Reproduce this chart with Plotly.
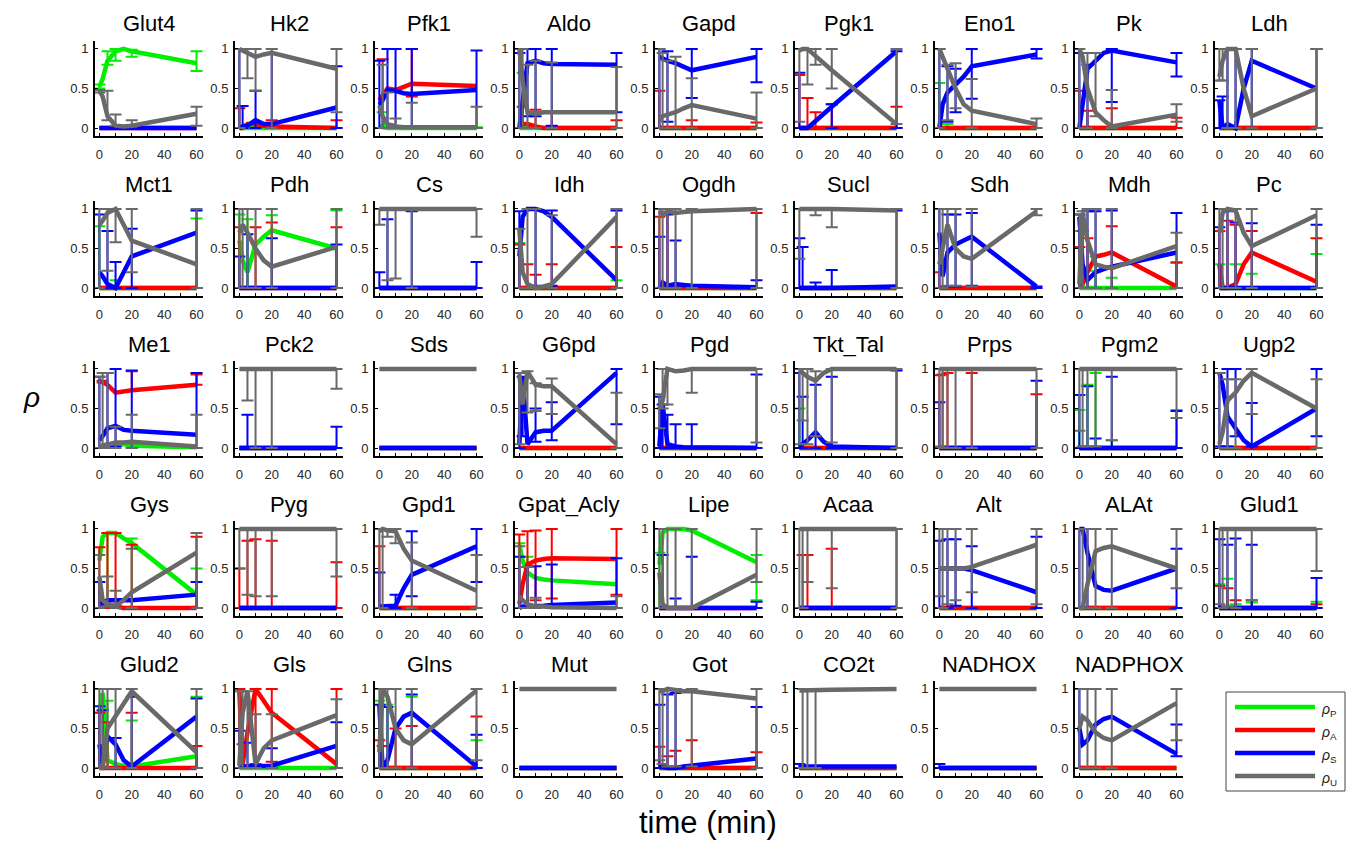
import plotly.graph_objects as go

# ---------------------------------------------------------------- data
TIME = [0, 2, 5, 10, 15, 20, 60]

GENES = [
    "Glut4", "Hk2", "Pfk1", "Aldo", "Gapd", "Pgk1", "Eno1", "Pk", "Ldh",
    "Mct1", "Pdh", "Cs", "Idh", "Ogdh", "Sucl", "Sdh", "Mdh", "Pc",
    "Me1", "Pck2", "Sds", "G6pd", "Pgd", "Tkt_Tal", "Prps", "Pgm2", "Ugp2",
    "Gys", "Pyg", "Gpd1", "Gpat_Acly", "Lipe", "Acaa", "Alt", "ALAt", "Glud1",
    "Glud2", "Gls", "Glns", "Mut", "Got", "CO2t", "NADHOX", "NADPHOX",
]

# mean regulation coefficients at each time point
P_MEAN = {
    "Glut4": [0.52, 0.62, 0.85, 0.97, 1.0, 0.97, 0.82],
    "Hk2": [0, 0, 0, 0, 0, 0, 0],
    "Pfk1": [0.02, 0.01, 0, 0, 0, 0, 0],
    "Aldo": [0, 0, 0, 0, 0, 0, 0],
    "Gapd": [0, 0, 0, 0, 0, 0, 0],
    "Pgk1": [0, 0, 0, 0, 0, 0, 0],
    "Eno1": [0, 0, 0, 0, 0, 0, 0],
    "Pk": [0, 0, 0, 0, 0, 0, 0],
    "Ldh": [0, 0, 0, 0, 0, 0, 0],
    "Mct1": [0, 0, 0, 0, 0, 0, 0],
    "Pdh": [0.6, 0.35, 0.2, 0.55, 0.65, 0.73, 0.5],
    "Cs": [0, 0, 0, 0, 0, 0, 0],
    "Idh": [0, 0, 0, 0, 0, 0, 0],
    "Ogdh": [0, 0, 0, 0, 0, 0, 0],
    "Sucl": [0, 0, 0, 0, 0, 0, 0],
    "Sdh": [0, 0, 0, 0, 0, 0, 0],
    "Mdh": [0, 0, 0, 0, 0, 0, 0],
    "Pc": [0, 0, 0, 0, 0, 0, 0],
    "Me1": [0.02, 0.03, 0.05, 0.05, 0.05, 0.03, 0.01],
    "Pck2": [0, 0, 0, 0, 0, 0, 0],
    "Sds": [0, 0, 0, 0, 0, 0, 0],
    "G6pd": [0, 0, 0, 0, 0, 0, 0],
    "Pgd": [0, 0, 0, 0, 0, 0, 0],
    "Tkt_Tal": [0, 0, 0, 0, 0, 0, 0],
    "Prps": [0, 0, 0, 0, 0, 0, 0],
    "Pgm2": [0, 0, 0, 0, 0, 0, 0],
    "Ugp2": [0, 0, 0, 0, 0, 0, 0],
    "Gys": [0.6, 0.9, 0.95, 0.95, 0.88, 0.82, 0.17],
    "Pyg": [0, 0, 0, 0, 0, 0, 0],
    "Gpd1": [0, 0, 0, 0, 0, 0, 0],
    "Gpat_Acly": [0.8, 0.6, 0.45, 0.38, 0.36, 0.35, 0.3],
    "Lipe": [0.55, 0.95, 1.0, 1.0, 1.0, 0.98, 0.58],
    "Acaa": [0, 0, 0, 0, 0, 0, 0],
    "Alt": [0, 0, 0, 0, 0, 0, 0],
    "ALAt": [0, 0, 0, 0, 0, 0, 0],
    "Glud1": [0, 0, 0, 0, 0, 0, 0],
    "Glud2": [0.7, 0.95, 0.1, 0.05, 0.03, 0.02, 0.15],
    "Gls": [0, 0, 0, 0, 0, 0, 0],
    "Glns": [0, 0, 0, 0, 0, 0, 0],
    "Mut": [0, 0, 0, 0, 0, 0, 0],
    "Got": [0, 0, 0, 0, 0, 0, 0],
    "CO2t": [0, 0, 0, 0, 0, 0, 0],
    "NADHOX": [0, 0, 0, 0, 0, 0, 0],
    "NADPHOX": [0, 0, 0, 0, 0, 0, 0],
}

A_MEAN = {
    "Glut4": [0, 0, 0, 0, 0, 0, 0],
    "Hk2": [0, 0, 0.05, 0.05, 0.03, 0.02, 0],
    "Pfk1": [0.35, 0.42, 0.5, 0.48, 0.52, 0.56, 0.53],
    "Aldo": [0.05, 0.05, 0.05, 0.02, 0, 0, 0],
    "Gapd": [0, 0, 0, 0, 0, 0, 0],
    "Pgk1": [0, 0, 0, 0, 0, 0, 0],
    "Eno1": [0, 0, 0, 0, 0, 0, 0],
    "Pk": [0, 0, 0, 0, 0, 0, 0],
    "Ldh": [0, 0, 0, 0, 0, 0, 0],
    "Mct1": [0, 0, 0, 0, 0, 0, 0],
    "Pdh": [0, 0, 0, 0, 0, 0, 0],
    "Cs": [0, 0, 0, 0, 0, 0, 0],
    "Idh": [0, 0, 0, 0, 0, 0, 0],
    "Ogdh": [0, 0, 0, 0, 0, 0, 0],
    "Sucl": [0, 0, 0, 0, 0, 0, 0],
    "Sdh": [0, 0, 0, 0, 0, 0, 0],
    "Mdh": [0.1, 0.05, 0.2, 0.4, 0.42, 0.45, 0.02],
    "Pc": [0.3, 0.0, 0.0, 0.05, 0.3, 0.45, 0.08],
    "Me1": [0.85, 0.83, 0.8, 0.7, 0.72, 0.73, 0.8],
    "Pck2": [0, 0, 0, 0, 0, 0, 0],
    "Sds": [0, 0, 0, 0, 0, 0, 0],
    "G6pd": [0, 0, 0, 0, 0, 0, 0],
    "Pgd": [0, 0, 0, 0, 0, 0, 0],
    "Tkt_Tal": [0, 0, 0, 0, 0, 0, 0],
    "Prps": [0, 0, 0, 0, 0, 0, 0],
    "Pgm2": [0, 0, 0, 0, 0, 0, 0],
    "Ugp2": [0, 0, 0, 0, 0, 0, 0],
    "Gys": [0.05, 0.05, 0.05, 0.02, 0, 0, 0],
    "Pyg": [0, 0, 0, 0, 0, 0, 0],
    "Gpd1": [0, 0, 0, 0, 0, 0, 0],
    "Gpat_Acly": [0.05, 0.3, 0.55, 0.6, 0.62, 0.63, 0.62],
    "Lipe": [0, 0, 0, 0, 0, 0, 0],
    "Acaa": [0, 0, 0, 0, 0, 0, 0],
    "Alt": [0, 0, 0, 0, 0, 0, 0],
    "ALAt": [0, 0, 0, 0, 0, 0, 0],
    "Glud1": [0, 0, 0, 0, 0, 0, 0],
    "Glud2": [0, 0, 0, 0, 0, 0, 0],
    "Gls": [0.97, 0.05, 0.45, 1.0, 0.85, 0.7, 0.05],
    "Glns": [0, 0, 0, 0, 0, 0, 0],
    "Mut": [0, 0, 0, 0, 0, 0, 0],
    "Got": [0, 0, 0, 0, 0, 0, 0],
    "CO2t": [0, 0, 0, 0, 0, 0, 0],
    "NADHOX": [0, 0, 0, 0, 0, 0, 0],
    "NADPHOX": [0, 0, 0, 0, 0, 0, 0],
}

S_MEAN = {
    "Glut4": [0, 0, 0, 0, 0, 0, 0],
    "Hk2": [0, 0.02, 0.03, 0.1, 0.05, 0.05, 0.26],
    "Pfk1": [0.3, 0.35, 0.48, 0.47, 0.44, 0.43, 0.48],
    "Aldo": [0.0, 0.3, 0.82, 0.85, 0.82, 0.81, 0.8],
    "Gapd": [0.9, 0.88, 0.85, 0.82, 0.78, 0.73, 0.9],
    "Pgk1": [0, 0, 0, 0.09, 0.18, 0.27, 0.97],
    "Eno1": [0.0, 0.3, 0.45, 0.55, 0.65, 0.78, 0.93],
    "Pk": [0, 0.3, 0.75, 0.85, 0.95, 0.98, 0.83],
    "Ldh": [0.35, 0.0, 0.05, 0.0, 0.5, 0.85, 0.5],
    "Mct1": [0.2, 0.15, 0.05, 0.0, 0.2, 0.4, 0.7],
    "Pdh": [0, 0, 0, 0, 0, 0, 0],
    "Cs": [0, 0, 0, 0, 0, 0, 0],
    "Idh": [0.4, 0.9, 1.0, 1.0, 0.97, 0.9, 0.1],
    "Ogdh": [0.0, 0.07, 0.03, 0.05, 0.04, 0.03, 0.01],
    "Sucl": [0, 0, 0, 0, 0, 0, 0.02],
    "Sdh": [0.7, 0.15, 0.45, 0.55, 0.6, 0.65, 0.02],
    "Mdh": [0.9, 0.3, 0.1, 0.2, 0.24, 0.27, 0.45],
    "Pc": [0, 0, 0, 0, 0, 0, 0],
    "Me1": [0.1, 0.15, 0.25, 0.28, 0.23, 0.22, 0.17],
    "Pck2": [0, 0, 0, 0, 0, 0, 0],
    "Sds": [0, 0, 0, 0, 0, 0, 0],
    "G6pd": [0.05, 0.9, 0.05, 0.2, 0.22, 0.22, 0.95],
    "Pgd": [0.02, 0.55, 0.05, 0.02, 0.01, 0.01, 0.0],
    "Tkt_Tal": [0.02, 0.05, 0.1, 0.2, 0.08, 0.02, 0.0],
    "Prps": [0, 0, 0, 0, 0, 0, 0],
    "Pgm2": [0, 0, 0, 0, 0, 0, 0],
    "Ugp2": [0.95, 0.8, 0.4, 0.25, 0.1, 0.02, 0.5],
    "Gys": [0.05, 0.07, 0.1, 0.1, 0.1, 0.1, 0.17],
    "Pyg": [0, 0, 0, 0, 0, 0, 0],
    "Gpd1": [0.02, 0.02, 0.02, 0.03, 0.25, 0.42, 0.78],
    "Gpat_Acly": [0.0, 0.02, 0.02, 0.02, 0.03, 0.04, 0.07],
    "Lipe": [0, 0, 0, 0, 0, 0, 0],
    "Acaa": [0, 0, 0, 0, 0, 0, 0],
    "Alt": [0.5, 0.5, 0.5, 0.5, 0.5, 0.48, 0.2],
    "ALAt": [1.0, 1.0, 0.7, 0.28, 0.23, 0.22, 0.5],
    "Glud1": [0, 0, 0, 0, 0, 0, 0],
    "Glud2": [0.3, 0.05, 0.4, 0.3, 0.1, 0.02, 0.65],
    "Gls": [0.02, 0.02, 0.03, 0.02, 0.02, 0.03, 0.28],
    "Glns": [0.8, 0.0, 0.1, 0.5, 0.65, 0.7, 0.02],
    "Mut": [0, 0, 0, 0, 0, 0, 0],
    "Got": [0.02, 0.02, 0.0, 0.0, 0.02, 0.03, 0.12],
    "CO2t": [0.02, 0.02, 0.02, 0.02, 0.02, 0.02, 0.02],
    "NADHOX": [0, 0, 0, 0, 0, 0, 0],
    "NADPHOX": [0.5, 0.3, 0.35, 0.55, 0.62, 0.65, 0.18],
}

U_MEAN = {
    "Glut4": [0.47, 0.4, 0.15, 0.03, 0.02, 0.03, 0.18],
    "Hk2": [1.0, 0.98, 0.95, 0.9, 0.93, 0.95, 0.75],
    "Pfk1": [0.28, 0.15, 0.05, 0.02, 0.01, 0.01, 0.01],
    "Aldo": [1.0, 0.6, 0.2, 0.18, 0.2, 0.2, 0.2],
    "Gapd": [0.1, 0.15, 0.17, 0.2, 0.25, 0.29, 0.12],
    "Pgk1": [0.98, 1.0, 1.0, 0.91, 0.82, 0.73, 0.05],
    "Eno1": [1.0, 0.9, 0.75, 0.5, 0.3, 0.22, 0.05],
    "Pk": [1.0, 0.9, 0.5, 0.2, 0.1, 0.02, 0.17],
    "Ldh": [0.65, 0.85, 1.0, 1.0, 0.5, 0.15, 0.5],
    "Mct1": [0.8, 0.85, 0.95, 1.0, 0.8, 0.6, 0.3],
    "Pdh": [0.7, 0.8, 0.7, 0.5, 0.35, 0.27, 0.52],
    "Cs": [1, 1, 1, 1, 1, 1, 1],
    "Idh": [0.75, 0.2, 0.05, 0.0, 0.02, 0.05, 0.9],
    "Ogdh": [0.97, 0.93, 0.97, 0.95, 0.96, 0.97, 1.0],
    "Sucl": [1, 1, 1, 1, 1, 1, 0.98],
    "Sdh": [0.3, 0.5, 0.8, 0.5, 0.4, 0.37, 0.97],
    "Mdh": [0.05, 0.95, 0.6, 0.3, 0.27, 0.25, 0.53],
    "Pc": [0.7, 0.95, 1.0, 0.98, 0.7, 0.53, 0.92],
    "Me1": [0.02, 0.03, 0.05, 0.07, 0.07, 0.08, 0.02],
    "Pck2": [1, 1, 1, 1, 1, 1, 1],
    "Sds": [1, 1, 1, 1, 1, 1, 1],
    "G6pd": [0.93, 0.55, 0.97, 0.8, 0.78, 0.78, 0.05],
    "Pgd": [0.5, 0.6, 1.0, 0.97, 0.98, 1.0, 1.0],
    "Tkt_Tal": [0.97, 0.95, 0.9, 0.85, 0.95, 1.0, 1.0],
    "Prps": [1, 1, 1, 1, 1, 1, 1],
    "Pgm2": [1, 1, 1, 1, 1, 1, 1],
    "Ugp2": [0.05, 0.2, 0.6, 0.7, 0.85, 0.95, 0.5],
    "Gys": [0.4, 0.1, 0.05, 0.02, 0.1, 0.2, 0.7],
    "Pyg": [1, 1, 1, 1, 1, 1, 1],
    "Gpd1": [0.97, 1.0, 0.98, 0.97, 0.75, 0.6, 0.22],
    "Gpat_Acly": [0.15, 0.1, 0.05, 0.02, 0.02, 0.01, 0.0],
    "Lipe": [0.45, 0.05, 0.0, 0.0, 0.0, 0.0, 0.42],
    "Acaa": [1, 1, 1, 1, 1, 1, 1],
    "Alt": [0.5, 0.5, 0.5, 0.5, 0.5, 0.52, 0.8],
    "ALAt": [0.0, 0.0, 0.3, 0.72, 0.76, 0.78, 0.5],
    "Glud1": [1, 1, 1, 1, 1, 1, 1],
    "Glud2": [0.0, 0.0, 0.5, 0.65, 0.8, 0.97, 0.2],
    "Gls": [0.03, 0.7, 0.97, 0.05, 0.25, 0.35, 0.67],
    "Glns": [0.2, 1.0, 0.9, 0.5, 0.35, 0.3, 0.98],
    "Mut": [1, 1, 1, 1, 1, 1, 1],
    "Got": [0.97, 0.97, 1.0, 0.98, 0.97, 0.97, 0.88],
    "CO2t": [0.98, 0.98, 0.98, 0.99, 0.99, 0.99, 1.0],
    "NADHOX": [1, 1, 1, 1, 1, 1, 1],
    "NADPHOX": [0.5, 0.65, 0.6, 0.45, 0.38, 0.35, 0.82],
}

# confidence intervals: (time index, lower bound, upper bound)
P_ERR = {
    "Glut4": [(0, 0.5, 0.55), (2, 0.8, 0.97), (3, 0.85, 1.0), (5, 0.9, 0.99), (6, 0.72, 0.97)],
    "Pfk1": [(1, 0, 0.2), (2, 0, 0.05), (6, 0, 0.01)],
    "Aldo": [(1, 0, 0.7)],
    "Eno1": [(0, 0, 0.57), (2, 0, 0.05)],
    "Mct1": [(0, 0, 0.78), (3, 0, 0.1), (6, 0, 0.88)],
    "Pdh": [(0, 0, 0.93), (2, 0, 0.87), (5, 0, 0.92), (6, 0, 0.98)],
    "Idh": [(0, 0, 0.57), (6, 0, 0.1)],
    "Mdh": [(0, 0, 0.72), (2, 0, 0.22), (3, 0, 0.4), (5, 0, 0.13), (6, 0, 0.33)],
    "Pc": [(0, 0, 0.3), (3, 0, 0.3), (5, 0, 0.18), (6, 0, 0.43)],
    "Tkt_Tal": [(0, 0, 0.5)],
    "Pgm2": [(0, 0, 0.48), (2, 0, 0.8), (3, 0, 0.95), (5, 0, 0.1), (6, 0, 0.48)],
    "Gys": [(2, 0, 0.95), (5, 0, 0.88), (6, 0, 0.5)],
    "Gpat_Acly": [(0, 0, 0.82), (2, 0, 0.65)],
    "Lipe": [(0, 0, 0.7), (6, 0.1, 0.67)],
    "Glud1": [(0, 0, 0.3), (2, 0, 0.37), (3, 0, 0.05), (5, 0, 0.07), (6, 0, 0.08)],
    "Glud2": [(0, 0, 0.67), (2, 0, 0.85), (5, 0, 0.6), (6, 0, 0.9)],
    "Glns": [(0, 0, 0.85), (2, 0, 0.8), (5, 0, 0.9), (6, 0, 0.35)],
}

A_ERR = {
    "Hk2": [(0, 0, 0.25), (5, 0, 0.1), (6, 0, 0.1)],
    "Pfk1": [(1, 0, 0.87), (5, 0.4, 1.0)],
    "Aldo": [(1, 0, 0.27), (3, 0, 0.23), (5, 0, 0.2), (6, 0, 0.1)],
    "Gapd": [(0, 0, 0.47), (5, 0, 0.1), (6, 0, 0.07)],
    "Pgk1": [(0, 0, 0.67), (2, 0, 0.38), (3, 0, 0.2), (5, 0, 0.3), (6, 0, 0.27)],
    "Pk": [(0, 0, 0.47), (2, 0, 0.22), (5, 0, 0.25), (6, 0, 0.13)],
    "Pdh": [(0, 0, 0.77), (3, 0, 0.77), (5, 0, 0.83), (6, 0, 0.77)],
    "Idh": [(0, 0, 0.55), (2, 0, 0.3), (3, 0, 0.17), (5, 0, 0.3), (6, 0, 0.52)],
    "Ogdh": [(0, 0, 0.9), (2, 0, 0.95), (6, 0, 0.95)],
    "Sdh": [(0, 0, 0.2)],
    "Mdh": [(0, 0, 0.52), (1, 0, 0.72), (2, 0, 0.63), (5, 0, 0.78), (6, 0, 0.32)],
    "Pc": [(0, 0, 0.72), (2, 0, 0.85), (3, 0, 0.8), (5, 0, 0.72), (6, 0, 0.63)],
    "Me1": [(1, 0.83, 0.85), (5, 0.73, 0.97), (6, 0.8, 0.93)],
    "Prps": [(0, 0, 0.92), (1, 0, 0.93), (2, 0, 0.95), (5, 0, 0.95), (6, 0, 0.68)],
    "Gys": [(0, 0, 0.77), (2, 0, 0.95), (3, 0, 0.95), (5, 0, 0.8), (6, 0, 0.9)],
    "Pyg": [(0, 0, 0.5), (2, 0, 0.85), (3, 0, 0.87), (5, 0, 0.85), (6, 0, 0.58)],
    "Gpd1": [(0, 0, 0.78)],
    "Gpat_Acly": [(0, 0, 0.93), (2, 0, 0.97), (3, 0.1, 0.98), (5, 0.12, 1.0), (6, 0.17, 1.0)],
    "Acaa": [(1, 0, 0.67), (2, 0, 0.67), (5, 0, 0.75), (6, 0, 1.0)],
    "Glud1": [(0, 0, 0.28), (2, 0, 0.25), (3, 0, 0.1), (5, 0, 0.1), (6, 0, 0.05)],
    "Glud2": [(0, 0, 0.7), (2, 0, 0.58), (5, 0, 0.7), (6, 0, 0.28)],
    "Gls": [(0, 0, 1.0), (1, 0, 0.3), (3, 0.05, 1.0), (5, 0.08, 1.0), (6, 0, 1.0)],
    "Glns": [(0, 0, 0.35), (1, 0, 0.28), (3, 0, 0.5), (5, 0, 0.53), (6, 0, 0.65)],
    "Got": [(0, 0, 0.27), (2, 0, 0.15), (3, 0, 0.22), (5, 0, 0.35), (6, 0, 0.2)],
}

S_ERR = {
    "Hk2": [(0, 0, 1.0), (1, 0, 0.28), (3, 0, 0.47), (5, 0, 0.95), (6, 0, 0.78)],
    "Pfk1": [(0, 0, 0.85), (2, 0, 1.0), (3, 0, 1.0), (5, 0, 1.0), (6, 0, 0.98)],
    "Aldo": [(0, 0, 0.95), (2, 0.15, 1.0), (3, 0.15, 1.0), (5, 0.03, 1.0), (6, 0.2, 0.95)],
    "Gapd": [(0, 0, 1.0), (2, 0.08, 0.97), (5, 0.38, 1.0), (6, 0.58, 1.0)],
    "Pgk1": [(0, 0, 0.7), (5, 0, 0.3), (6, 0, 0.85)],
    "Eno1": [(0, 0, 1.0), (2, 0.08, 0.78), (3, 0.2, 0.75), (5, 0.37, 1.0), (6, 0.88, 1.0)],
    "Pk": [(0, 0, 0.95), (2, 0, 0.8), (5, 0.33, 1.0), (6, 0.65, 0.95)],
    "Ldh": [(0, 0, 0.35), (1, 0, 0.4), (2, 0, 1.0), (3, 0, 1.0), (5, 0, 1.0), (6, 0, 1.0)],
    "Mct1": [(0, 0, 0.93), (2, 0, 0.72), (3, 0, 0.33), (5, 0, 0.75), (6, 0, 0.98)],
    "Pdh": [(0, 0, 0.4), (2, 0, 0.68), (5, 0, 0.63), (6, 0, 0.55)],
    "Cs": [(0, 0, 0.2), (2, 0, 0.87), (5, 0, 0.97), (6, 0, 0.33)],
    "Idh": [(0, 0, 0.97), (3, 0.03, 1.0), (5, 0.03, 0.98), (6, 0, 0.98)],
    "Ogdh": [(0, 0, 0.65), (2, 0, 0.93), (3, 0, 0.6), (6, 0, 0.1)],
    "Sucl": [(0, 0, 0.63), (1, 0, 0.52), (3, 0, 0.07), (5, 0, 0.23), (6, 0, 0.98)],
    "Sdh": [(0, 0, 1.0), (2, 0.02, 0.93), (3, 0.02, 0.93), (5, 0.03, 0.95), (6, 0, 0.02)],
    "Mdh": [(0, 0, 0.93), (2, 0, 0.97), (3, 0, 0.97), (5, 0, 0.98), (6, 0, 0.95)],
    "Pc": [(0, 0, 0.77), (2, 0, 0.97), (3, 0, 0.83), (5, 0, 0.82), (6, 0, 0.8)],
    "Me1": [(0, 0, 0.9), (2, 0, 0.95), (3, 0.02, 1.0), (5, 0, 0.98), (6, 0, 0.95)],
    "Pck2": [(2, 0, 0.42), (6, 0, 0.27)],
    "G6pd": [(0, 0, 0.95), (1, 0.15, 0.55), (3, 0.08, 0.5), (5, 0.1, 0.58), (6, 0.3, 1.0)],
    "Pgd": [(0, 0, 0.65), (1, 0, 0.5), (2, 0, 0.42), (3, 0, 0.3), (5, 0, 0.3), (6, 0, 0.93)],
    "Tkt_Tal": [(0, 0, 0.95), (1, 0, 0.65), (3, 0, 0.8), (5, 0, 0.9), (6, 0, 0.98)],
    "Prps": [(0, 0, 0.58), (6, 0, 0.85)],
    "Pgm2": [(0, 0, 0.67), (2, 0, 0.78), (3, 0, 0.12), (5, 0, 0.9), (6, 0, 0.47)],
    "Ugp2": [(0, 0.02, 0.95), (2, 0.02, 1.0), (3, 0.15, 1.0), (5, 0.02, 0.57), (6, 0.15, 1.0)],
    "Gys": [(0, 0, 0.33), (6, 0, 0.33)],
    "Gpd1": [(0, 0, 0.45), (3, 0, 0.17), (5, 0.15, 0.97), (6, 0.33, 1.0)],
    "Gpat_Acly": [(0, 0, 0.65), (2, 0, 0.52), (3, 0, 0.53), (5, 0, 0.55), (6, 0, 0.63)],
    "Lipe": [(1, 0, 0.67), (3, 0, 0.12), (5, 0, 0.65), (6, 0, 0.08)],
    "Alt": [(0, 0, 0.85), (2, 0, 0.87), (3, 0.03, 0.87), (5, 0, 0.78), (6, 0, 0.9)],
    "ALAt": [(0, 0, 1.0), (2, 0, 1.0), (6, 0, 0.75)],
    "Glud1": [(0, 0, 0.87), (2, 0, 0.8), (3, 0, 0.88), (5, 0, 0.8), (6, 0, 0.38)],
    "Glud2": [(0, 0, 0.78), (1, 0, 0.73), (3, 0, 0.38), (5, 0, 0.9), (6, 0, 0.88)],
    "Gls": [(0, 0, 0.47), (2, 0, 0.32), (5, 0, 0.25), (6, 0, 0.58)],
    "Glns": [(0, 0, 0.8), (2, 0, 0.77), (5, 0, 0.93), (6, 0, 0.42)],
    "Got": [(0, 0, 0.8), (2, 0, 0.93), (3, 0, 0.95), (6, 0, 0.77)],
    "CO2t": [(0, 0, 0.05)],
    "NADHOX": [(0, 0, 0.05)],
    "NADPHOX": [(0, 0, 1.0), (6, 0.15, 0.55)],
}

U_ERR = {
    "Glut4": [(0, 0.45, 0.48), (2, 0.1, 0.47), (3, 0.03, 0.17), (5, 0.02, 0.1), (6, 0.03, 0.27)],
    "Hk2": [(0, 0, 1.0), (2, 0.63, 1.0), (3, 0.47, 1.0), (5, 0, 1.0), (6, 0.2, 1.0)],
    "Pfk1": [(1, 0, 0.8), (2, 0, 0.45), (3, 0, 0.12), (5, 0, 0.32), (6, 0, 0.27)],
    "Aldo": [(0, 0, 1.0), (1, 0, 1.0), (2, 0, 0.8), (3, 0, 0.85), (5, 0, 0.83), (6, 0, 0.77)],
    "Gapd": [(0, 0, 1.0), (1, 0, 0.95), (2, 0, 0.85), (3, 0, 0.9), (5, 0, 0.63), (6, 0, 0.45)],
    "Pgk1": [(0, 0.08, 1.0), (2, 0.55, 1.0), (3, 0.8, 1.0), (5, 0.5, 1.0), (6, 0.12, 1.0)],
    "Eno1": [(0, 0, 1.0), (2, 0.1, 0.8), (3, 0.25, 0.82), (5, 0, 0.62), (6, 0, 0.12)],
    "Pk": [(0, 0, 1.0), (2, 0, 0.95), (3, 0.15, 0.95), (5, 0, 0.48), (6, 0.08, 0.3)],
    "Ldh": [(0, 0.6, 1.0), (1, 0.6, 1.0), (2, 0, 1.0), (3, 0, 1.0), (5, 0, 1.0), (6, 0, 1.0)],
    "Mct1": [(0, 0, 1.0), (2, 0.22, 1.0), (3, 0.58, 1.0), (5, 0.2, 1.0), (6, 0, 1.0)],
    "Pdh": [(0, 0, 1.0), (1, 0, 1.0), (2, 0, 1.0), (3, 0, 1.0), (5, 0, 1.0), (6, 0, 1.0)],
    "Cs": [(0, 0.8, 1.0), (2, 0.1, 1.0), (3, 0.12, 1.0), (5, 0, 1.0), (6, 0.65, 1.0)],
    "Idh": [(0, 0, 0.75), (2, 0, 1.0), (3, 0, 1.0), (5, 0, 0.92), (6, 0, 1.0)],
    "Ogdh": [(0, 0, 1.0), (1, 0, 1.0), (2, 0, 1.0), (3, 0, 1.0), (5, 0, 1.0), (6, 0, 1.0)],
    "Sucl": [(0, 0.37, 1.0), (3, 0.92, 1.0), (5, 0.77, 1.0), (6, 0, 1.0)],
    "Sdh": [(0, 0, 1.0), (1, 0, 1.0), (2, 0.03, 1.0), (3, 0.03, 1.0), (5, 0.02, 1.0), (6, 0.92, 1.0)],
    "Mdh": [(0, 0, 0.93), (1, 0, 0.97), (2, 0, 1.0), (3, 0, 1.0), (5, 0, 1.0), (6, 0, 0.7)],
    "Pc": [(0, 0, 1.0), (1, 0, 1.0), (2, 0, 1.0), (3, 0, 1.0), (5, 0, 1.0), (6, 0, 1.0)],
    "Me1": [(0, 0, 0.9), (1, 0, 0.95), (2, 0, 0.95), (3, 0, 0.27), (5, 0, 0.42), (6, 0, 0.42)],
    "Pck2": [(2, 0.6, 1.0), (3, 0, 1.0), (5, 0, 1.0), (6, 0.75, 1.0)],
    "G6pd": [(0, 0.05, 0.95), (2, 0.45, 0.97), (3, 0.47, 0.82), (5, 0.43, 0.88), (6, 0, 0.7)],
    "Pgd": [(0, 0.25, 0.68), (1, 0.5, 1.0), (2, 0.55, 1.0), (5, 0.7, 1.0), (6, 0.07, 1.0)],
    "Tkt_Tal": [(0, 0.05, 1.0), (1, 0.35, 1.0), (2, 0.05, 1.0), (3, 0.15, 0.97), (5, 0.07, 1.0), (6, 0, 1.0)],
    "Prps": [(0, 0.02, 1.0), (1, 0, 1.0), (2, 0, 1.0), (3, 0, 1.0), (5, 0, 1.0), (6, 0, 1.0)],
    "Pgm2": [(0, 0.22, 1.0), (1, 0.02, 1.0), (2, 0.02, 1.0), (3, 0.02, 1.0), (5, 0.1, 1.0), (6, 0.38, 1.0)],
    "Ugp2": [(0, 0, 0.95), (2, 0, 0.87), (3, 0, 0.87), (5, 0.43, 1.0), (6, 0, 0.87)],
    "Gys": [(0, 0, 0.67), (2, 0.02, 0.4), (3, 0, 0.22), (5, 0, 0.75), (6, 0, 0.95)],
    "Pyg": [(0, 0.5, 1.0), (2, 0.17, 1.0), (3, 0.15, 1.0), (5, 0.15, 1.0), (6, 0.4, 1.0)],
    "Gpd1": [(0, 0, 1.0), (1, 0, 0.97), (2, 0.9, 1.0), (3, 0.82, 1.0), (5, 0, 0.83), (6, 0, 0.67)],
    "Gpat_Acly": [(0, 0, 0.78), (2, 0, 0.52), (3, 0, 0.13), (6, 0, 0.15)],
    "Lipe": [(0, 0, 1.0), (1, 0, 1.0), (2, 0, 1.0), (3, 0, 1.0), (5, 0, 1.0), (6, 0.33, 1.0)],
    "Acaa": [(0, 0, 1.0), (1, 0, 1.0), (2, 0.33, 1.0), (5, 0.25, 1.0), (6, 0, 1.0)],
    "Alt": [(0, 0.15, 1.0), (1, 0, 1.0), (2, 0.05, 1.0), (3, 0.1, 1.0), (5, 0.2, 1.0), (6, 0.05, 1.0)],
    "ALAt": [(0, 0, 1.0), (1, 0, 1.0), (2, 0, 1.0), (3, 0, 1.0), (5, 0, 1.0), (6, 0.25, 1.0)],
    "Glud1": [(0, 0.05, 1.0), (1, 0, 1.0), (2, 0.02, 1.0), (3, 0, 1.0), (5, 0.1, 1.0), (6, 0.47, 1.0)],
    "Glud2": [(0, 0, 1.0), (1, 0, 1.0), (2, 0, 1.0), (3, 0, 1.0), (5, 0, 1.0), (6, 0, 1.0)],
    "Gls": [(0, 0, 0.97), (1, 0, 0.97), (2, 0, 0.7), (3, 0, 0.68), (5, 0, 0.68), (6, 0, 0.87)],
    "Glns": [(0, 0, 1.0), (1, 0, 1.0), (2, 0, 1.0), (3, 0, 1.0), (5, 0, 1.0), (6, 0.1, 1.0)],
    "Got": [(0, 0.1, 1.0), (1, 0.05, 1.0), (2, 0.02, 1.0), (3, 0.02, 1.0), (5, 0.02, 1.0), (6, 0, 1.0)],
    "CO2t": [(1, 0, 1.0), (2, 0, 1.0), (3, 0, 1.0)],
    "NADPHOX": [(0, 0, 1.0), (2, 0, 1.0), (3, 0, 1.0), (5, 0, 1.0), (6, 0.35, 1.0)],
}

SERIES = [
    ("P", P_MEAN, P_ERR, "#00ee00"),
    ("A", A_MEAN, A_ERR, "#ff0000"),
    ("S", S_MEAN, S_ERR, "#0000ff"),
    ("U", U_MEAN, U_ERR, "#696969"),
]

# ---------------------------------------------------------------- layout geometry (px)
W, H = 1351, 842
NCOL = 9
COL_X0, COL_STEP, PLOT_W = 95, 140, 108
ROW_Y0, ROW_STEP, PLOT_H = 41, 160, 95
FONT = "Liberation Sans, Arial, sans-serif"


def fx(px):
    return px / W


def fy(py):
    return 1 - py / H


fig = go.Figure()
layout = dict(
    width=W, height=H,
    margin=dict(l=0, r=0, t=0, b=0),
    paper_bgcolor="white", plot_bgcolor="white",
    showlegend=False,
    font=dict(family=FONT, color="#262626"),
)
annotations = []
shapes = []

for k, gene in enumerate(GENES):
    r, c = divmod(k, NCOL)
    x0 = COL_X0 + c * COL_STEP
    y0 = ROW_Y0 + r * ROW_STEP
    n = k + 1
    xa_name = "xaxis" if n == 1 else f"xaxis{n}"
    ya_name = "yaxis" if n == 1 else f"yaxis{n}"
    xref = "x" if n == 1 else f"x{n}"
    yref = "y" if n == 1 else f"y{n}"

    for name, means, errs, color in SERIES:
        m = means[gene]
        pts = errs.get(gene, [])
        if pts:
            ex = [TIME[i] for i, lo, hi in pts]
            ey = [m[i] for i, lo, hi in pts]
            up = [max(hi - m[i], 0) for i, lo, hi in pts]
            dn = [max(m[i] - lo, 0) for i, lo, hi in pts]
            fig.add_trace(go.Scatter(
                x=ex, y=ey, mode="markers",
                marker=dict(size=1, color="rgba(0,0,0,0)"),
                error_y=dict(type="data", symmetric=False, array=up, arrayminus=dn,
                             color=color, thickness=2, width=6),
                xaxis=xref, yaxis=yref, hoverinfo="skip", cliponaxis=False,
            ))
        fig.add_trace(go.Scatter(
            x=TIME, y=m, mode="lines",
            line=dict(color=color, width=4.5),
            xaxis=xref, yaxis=yref, hoverinfo="skip", name=name,
        ))

    common = dict(
        showline=True, linecolor="black", linewidth=2, mirror=False,
        showgrid=False, zeroline=False, ticks="inside", ticklen=3,
        tickcolor="black", tickwidth=1,
        tickfont=dict(size=13, color="#262626", family=FONT),
        fixedrange=True,
    )
    layout[xa_name] = dict(
        common, domain=[fx(x0), fx(x0 + PLOT_W)], anchor=yref,
        range=[-2.7, 64], tickvals=[0, 20, 40, 60], ticklabelstandoff=5,
        minor=dict(tickvals=[10, 30, 50], ticks="inside", ticklen=3, tickcolor="black"),
    )
    layout[ya_name] = dict(
        common, domain=[fy(y0 + PLOT_H), fy(y0)], anchor=xref,
        range=[-0.1, 1.1], tickvals=[0, 0.5, 1], ticktext=["0", "0.5", "1"],
        ticklabelstandoff=2,
    )
    annotations.append(dict(
        text=gene, x=fx(x0 + PLOT_W / 2), y=fy(y0 - 17), xref="paper", yref="paper",
        showarrow=False, xanchor="center", yanchor="middle",
        font=dict(size=22, color="black", family=FONT),
    ))

# axis titles
annotations.append(dict(
    text="time (min)", x=fx(708), y=fy(822), xref="paper", yref="paper",
    showarrow=False, xanchor="center", yanchor="middle",
    font=dict(size=31, color="black", family=FONT),
))
annotations.append(dict(
    text="<i>ρ</i>", x=fx(31), y=fy(397), xref="paper", yref="paper",
    showarrow=False, xanchor="center", yanchor="middle",
    font=dict(size=28, color="black", family=FONT),
))

# legend box
shapes.append(dict(type="rect", xref="paper", yref="paper",
                   x0=fx(1226), x1=fx(1345), y0=fy(791), y1=fy(692),
                   line=dict(color="#444444", width=1), fillcolor="white"))
for j, (name, _, _, color) in enumerate(SERIES):
    ly = 707 + j * 23
    shapes.append(dict(type="line", xref="paper", yref="paper",
                       x0=fx(1235), x1=fx(1315), y0=fy(ly), y1=fy(ly),
                       line=dict(color=color, width=4.5)))
    annotations.append(dict(
        text=f"<i>ρ</i><sub>{name}</sub>", x=fx(1319), y=fy(ly + 3),
        xref="paper", yref="paper", showarrow=False,
        xanchor="left", yanchor="middle",
        font=dict(size=14, color="#262626", family=FONT),
    ))

layout["annotations"] = annotations
layout["shapes"] = shapes
fig.update_layout(**layout)
fig.write_html("out.html")
